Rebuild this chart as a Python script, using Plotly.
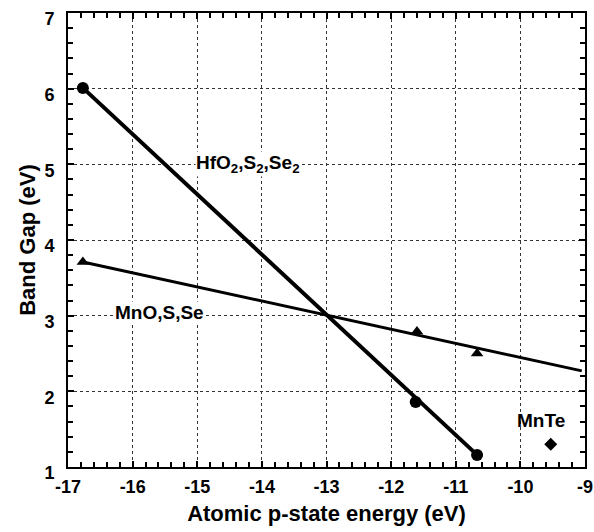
import plotly.graph_objects as go

# Data
hf_x = [-16.77, -11.62, -10.67]
hf_y = [6.01, 1.86, 1.16]
mn_x = [-16.77, -11.60, -10.67]
mn_y = [3.71, 2.79, 2.50]
mnte_x = [-9.53]
mnte_y = [1.30]
hf_fit_x = [-16.77, -10.67]
hf_fit_y = [6.01, 1.16]
mn_fit_x = [-16.77, -9.05]
mn_fit_y = [3.71, 2.27]

x_ticks = [-17, -16, -15, -14, -13, -12, -11, -10, -9]
y_ticks = [1, 2, 3, 4, 5, 6, 7]

FONT = "Liberation Sans, Arial, sans-serif"

fig = go.Figure()
fig.add_trace(go.Scatter(x=hf_fit_x, y=hf_fit_y, mode="lines",
                         line=dict(color="black", width=4), showlegend=False))
fig.add_trace(go.Scatter(x=mn_fit_x, y=mn_fit_y, mode="lines",
                         line=dict(color="black", width=3), showlegend=False))
fig.add_trace(go.Scatter(x=hf_x, y=hf_y, mode="markers",
                         marker=dict(symbol="circle", size=12, color="black"), showlegend=False))
fig.add_trace(go.Scatter(x=mn_x, y=mn_y, mode="markers",
                         marker=dict(symbol="triangle-up", size=11, color="black"), showlegend=False))
fig.add_trace(go.Scatter(x=mnte_x, y=mnte_y, mode="markers",
                         marker=dict(symbol="diamond", size=10, color="black"), showlegend=False))

ann_font = dict(family=FONT, size=19, color="black", weight="bold")
fig.add_annotation(x=-14.21, y=5.0, text="HfO<sub>2</sub>,S<sub>2</sub>,Se<sub>2</sub>",
                   showarrow=False, font=ann_font, bgcolor="white", borderpad=0)
fig.add_annotation(x=-15.59, y=3.04, text="MnO,S,Se",
                   showarrow=False, font=ann_font, bgcolor="white", borderpad=0)
fig.add_annotation(x=-9.68, y=1.62, text="MnTe",
                   showarrow=False, font=ann_font)

axis_common = dict(
    showline=True, linecolor="black", linewidth=2, mirror="allticks",
    ticks="inside", ticklen=6, tickwidth=1.5, tickcolor="black",
    showgrid=True, gridcolor="#333", griddash="dot", gridwidth=1,
    zeroline=False, ticklabeloverflow="allow", automargin=False,
    tickfont=dict(family=FONT, size=18, color="black", weight="bold"),
)

fig.update_xaxes(range=[-17, -9], tickvals=x_ticks,
                 ticktext=[f"<b>{v}</b>" for v in x_ticks],
                 ticklabelstandoff=2,
                 minor=dict(dtick=0.2, ticks="inside", ticklen=5, tickcolor="black", showgrid=False),
                 title=dict(text="Atomic p-state energy (eV)",
                            font=dict(family=FONT, size=22, color="black", weight="bold"), standoff=10),
                 **axis_common)
fig.update_yaxes(range=[1, 7], tickvals=y_ticks,
                 ticktext=[f"<b>{v}</b>" for v in y_ticks],
                 ticklabelstandoff=8, ticklabelshift=6,
                 minor=dict(dtick=0.2, ticks="inside", ticklen=5, tickcolor="black", showgrid=False),
                 title=dict(text="Band Gap (eV)",
                            font=dict(family=FONT, size=22, color="black", weight="bold"), standoff=3),
                 **axis_common)

fig.update_layout(width=594, height=532, margin=dict(l=68, r=9, t=13, b=65),
                  font=dict(family=FONT, weight="bold", color="black"),
                  plot_bgcolor="white", paper_bgcolor="white", showlegend=False)

fig.write_html("out.html", config={"displayModeBar": False},
               post_script="document.body.style.margin='0';")
